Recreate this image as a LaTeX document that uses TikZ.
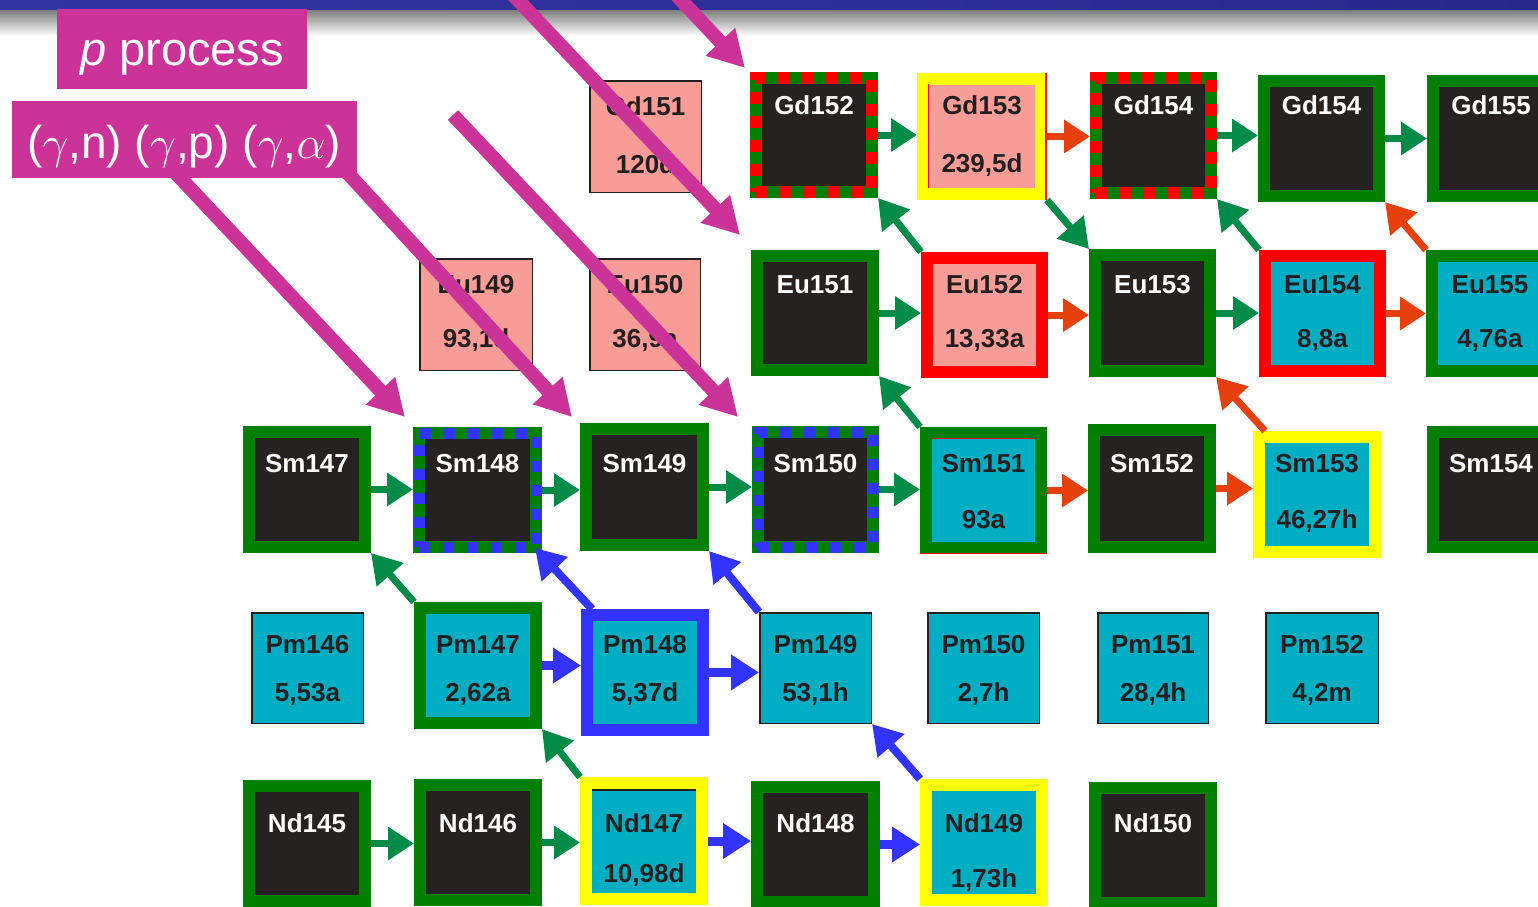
\documentclass[tikz,border=0pt]{standalone}
\usepackage{fontspec}
\setmainfont{Liberation Sans}
\usetikzlibrary{arrows.meta}
\definecolor{dk}{HTML}{252220}
\definecolor{gb}{HTML}{007F00}
\definecolor{ga}{HTML}{008C48}
\definecolor{oa}{HTML}{E8400C}
\definecolor{bl}{HTML}{3333FF}
\definecolor{cy}{HTML}{00AEC4}
\definecolor{pk}{HTML}{F89C98}
\definecolor{mg}{HTML}{CC3399}
\definecolor{yl}{HTML}{FFFF00}
\definecolor{rd}{HTML}{FF0000}
\definecolor{tx}{HTML}{231F20}
\definecolor{barL}{HTML}{3434A4}
\definecolor{barR}{HTML}{28288C}
\newcommand{\bigsym}[1]{{\fontsize{24.88}{24.88}\selectfont\scalebox{1.85}{$#1$}}}
\tikzset{
 thk/.style={rectangle, inner sep=0pt, line width=12pt, minimum width=116pt, minimum height=115pt},
 gblk/.style={thk, draw=gb, fill=dk},
 gcy/.style={thk, draw=gb, fill=cy},
 yel/.style={thk, draw=yl, fill=cy},
 yelpk/.style={thk, draw=yl, fill=pk},
 redpk/.style={thk, draw=rd, fill=pk},
 redcy/.style={thk, draw=rd, fill=cy},
 blucy/.style={thk, draw=bl, fill=cy},
 dashr/.style={gblk, postaction={draw=rd, line width=12pt, dash pattern=on 12pt off 12pt}},
 dashb/.style={gblk, postaction={draw=bl, line width=11pt, dash pattern=on 11pt off 13pt}},
 thn/.style={rectangle, inner sep=0pt, draw=tx, line width=1.5pt, minimum width=111.5pt, minimum height=110.5pt},
 thncy/.style={thn, fill=cy},
 thnpk/.style={thn, fill=pk},
 lab/.style={anchor=base, yshift=-9.3pt, inner sep=0pt, font=\fontsize{26}{26}\selectfont\bfseries},
 wl/.style={lab, text=white},
 dl/.style={lab, text=tx},
 harr/.style={line width=7pt, -{Triangle[length=26pt, width=32pt]}},
 barr/.style={line width=9pt, -{Triangle[length=28pt, width=34pt]}},
 darr/.style={line width=7pt, -{Triangle[length=29pt, width=34pt]}},
 marr/.style={draw=mg, line width=14pt, -{Triangle[length=36pt, width=38pt]}},
 ttl/.style={fill=mg, inner sep=0pt},
 trim/.style={line width=1.6pt}
}
\begin{document}
\begin{tikzpicture}[x=1pt,y=-1pt]
\useasboundingbox (0,0) rectangle (1538,906);
\fill[white] (0,0) rectangle (1538,906);
% top bar
\shade[top color=black!55, bottom color=white] (0,8) rectangle (1538,36);
\shade[left color=barL, right color=barR] (0,0) rectangle (1538,9);

% ---- boxes ----
% Gd row
\node[thnpk, minimum width=111.5pt, minimum height=111.5pt] (Gd151) at (645.5,136.5) {};
\node[dashr, minimum height=114pt] (Gd152) at (814,135) {};
\node[yelpk, minimum width=118pt] (Gd153) at (982,136.5) {};
\node[dashr, minimum width=115pt] (Gd154) at (1153.5,135.5) {};
\node[gblk, minimum width=115pt] (Gd154b) at (1321.5,138.5) {};
\node[gblk] (Gd155) at (1491,138.5) {};
% Eu row
\node[thnpk, minimum width=112.5pt, minimum height=111.5pt] (Eu149) at (476,314.5) {};
\node[thnpk, minimum width=110.5pt, minimum height=111.5pt] (Eu150) at (645,314.5) {};
\node[gblk, minimum height=114pt] (Eu151) at (815,313) {};
\node[redpk, minimum width=115pt, minimum height=114pt] (Eu152) at (984.5,315) {};
\node[gblk, minimum width=115pt, minimum height=116pt] (Eu153) at (1152.5,313) {};
\node[redcy, minimum width=115pt] (Eu154) at (1322.5,313.5) {};
\node[gcy] (Eu155) at (1490,313.5) {};
% Sm row
\node[gblk] (Sm147) at (307,489.5) {};
\node[dashb, minimum width=117pt, minimum height=114pt] (Sm148) at (477.5,490) {};
\node[gblk, minimum width=117pt, minimum height=116pt] (Sm149) at (644.5,487) {};
\node[dashb, minimum width=115pt] (Sm150) at (815.5,489.5) {};
\node[gcy, minimum width=115pt] (Sm151) at (983.5,490.5) {};
\node[gblk, minimum height=117pt] (Sm152) at (1152,488.5) {};
\node[yel] (Sm153) at (1317,494.5) {};
\node[gblk] (Sm154) at (1491,489.5) {};
% Pm row
\node[thncy] (Pm146) at (307.5,668) {};
\node[gcy] (Pm147) at (478,665.5) {};
\node[blucy] (Pm148) at (645,672.5) {};
\node[thncy] (Pm149) at (815.5,668) {};
\node[thncy] (Pm150) at (983.5,668) {};
\node[thncy, minimum width=110.5pt] (Pm151) at (1153,668) {};
\node[thncy, minimum width=112.5pt] (Pm152) at (1322,668) {};
% Nd row
\node[gblk] (Nd145) at (307,843.5) {};
\node[gblk] (Nd146) at (478,842.5) {};
\node[yel, minimum height=116pt] (Nd147) at (644,841) {};
\node[gblk, minimum width=117pt] (Nd148) at (815.5,844.5) {};
\node[yel] (Nd149) at (984,842.5) {};
\node[gblk] (Nd150) at (1153,845.5) {};

% small edge trims seen in the picture
\draw[trim, rd] (928.5,84) -- (928.5,188);
\draw[trim, rd] (1046,73) -- (1046,200);
\draw[trim, rd] (931,438.5) -- (1035,438.5);
\draw[trim, rd] (920,553.5) -- (1047,553.5);
\draw[trim, tx] (592,790) -- (696,790);

% ---- labels ----
\node[dl] at (645.5,106) {Gd151};  \node[dl] at (645.5,164) {120d};
\node[wl] at (814,105) {Gd152};
\node[dl] at (982,105) {Gd153};    \node[dl] at (982,163) {239,5d};
\node[wl] at (1153.5,105) {Gd154};
\node[wl] at (1321.5,105) {Gd154};
\node[wl] at (1491,105) {Gd155};
\node[dl] at (476,284) {Eu149};    \node[dl] at (476,338) {93,1d};
\node[dl] at (645,284) {Eu150};    \node[dl] at (645,338) {36,9a};
\node[wl] at (815,284) {Eu151};
\node[dl] at (984.5,284) {Eu152};  \node[dl] at (984.5,338) {13,33a};
\node[wl] at (1152.5,284) {Eu153};
\node[dl] at (1322.5,284) {Eu154}; \node[dl] at (1322.5,338) {8,8a};
\node[dl] at (1490,284) {Eu155};   \node[dl] at (1490,338) {4,76a};
\node[wl] at (307,463) {Sm147};
\node[wl] at (477.5,463) {Sm148};
\node[wl] at (644.5,463) {Sm149};
\node[wl] at (815.5,463) {Sm150};
\node[dl] at (983.5,463) {Sm151};  \node[dl] at (983.5,519) {93a};
\node[wl] at (1152,463) {Sm152};
\node[dl] at (1317,463) {Sm153};   \node[dl] at (1317,519) {46,27h};
\node[wl] at (1491,463) {Sm154};
\node[dl] at (307.5,644) {Pm146};  \node[dl] at (307.5,692) {5,53a};
\node[dl] at (478,644) {Pm147};    \node[dl] at (478,692) {2,62a};
\node[dl] at (645,644) {Pm148};    \node[dl] at (645,692) {5,37d};
\node[dl] at (815.5,644) {Pm149};  \node[dl] at (815.5,692) {53,1h};
\node[dl] at (983.5,644) {Pm150};  \node[dl] at (983.5,692) {2,7h};
\node[dl] at (1153,644) {Pm151};   \node[dl] at (1153,692) {28,4h};
\node[dl] at (1322,644) {Pm152};   \node[dl] at (1322,692) {4,2m};
\node[wl] at (307,823) {Nd145};
\node[wl] at (478,823) {Nd146};
\node[dl] at (644,823) {Nd147};    \node[dl] at (644,873) {10,98d};
\node[wl] at (815.5,823) {Nd148};
\node[dl] at (984,823) {Nd149};    \node[dl] at (984,878) {1,73h};
\node[wl] at (1153,823) {Nd150};

% ---- horizontal arrows ----
\draw[harr, ga] (Gd152.east) -- (Gd152.east -| Gd153.west);
\draw[harr, oa] (Gd153.east) -- (Gd153.east -| Gd154.west);
\draw[harr, ga] (Gd154.east) -- (Gd154.east -| Gd154b.west);
\draw[harr, ga] (Gd154b.east) -- (Gd154b.east -| Gd155.west);
\draw[harr, ga] (Eu151.east) -- (Eu151.east -| Eu152.west);
\draw[harr, oa] (Eu152.east) -- (Eu152.east -| Eu153.west);
\draw[harr, ga] (Eu153.east) -- (Eu153.east -| Eu154.west);
\draw[harr, oa] (Eu154.east) -- (Eu154.east -| Eu155.west);
\draw[harr, ga] (Sm147.east) -- (Sm147.east -| Sm148.west);
\draw[harr, ga] (Sm148.east) -- (Sm148.east -| Sm149.west);
\draw[harr, ga] (Sm149.east) -- (Sm149.east -| Sm150.west);
\draw[harr, ga] (Sm150.east) -- (Sm150.east -| Sm151.west);
\draw[harr, oa] (Sm151.east) -- (Sm151.east -| Sm152.west);
\draw[harr, oa] (Sm152.east) -- (Sm152.east -| Sm153.west);
\draw[barr, bl] (Pm147.east) -- (Pm147.east -| Pm148.west);
\draw[barr, bl] (Pm148.east) -- (Pm148.east -| Pm149.west);
\draw[harr, ga] (Nd145.east) -- (Nd145.east -| Nd146.west);
\draw[harr, ga] (Nd146.east) -- (Nd146.east -| Nd147.west);
\draw[barr, bl] (Nd147.east) -- (Nd147.east -| Nd148.west);
\draw[barr, bl] (Nd148.east) -- (Nd148.east -| Nd149.west);

% ---- diagonal arrows ----
\draw[darr, ga] (Eu152.north west) -- (Gd152.south east);
\draw[darr, ga] (Gd153.south east) -- (Eu153.north west);
\draw[darr, ga] (Eu154.north west) -- (Gd154.south east);
\draw[darr, oa] (Eu155.north west) -- (Gd154b.south east);
\draw[darr, ga] (Sm151.north west) -- (Eu151.south east);
\draw[darr, oa] ([xshift=12pt]Sm153.north west) -- (Eu153.south east);
\draw[darr, ga] (Pm147.north west) -- (Sm147.south east);
\draw[darr, bl, line width=8pt] ([xshift=11pt]Pm148.north west) -- ([shift={(-7pt,5pt)}]Sm148.south east);
\draw[darr, bl, line width=8pt] (Pm149.north west) -- (Sm149.south east);
\draw[darr, ga] (Nd147.north west) -- (Pm147.south east);
\draw[darr, bl, line width=8pt] (Nd149.north west) -- (Pm149.south east);

% ---- magenta p-process arrows ----
\coordinate (m1) at (171,168);
\coordinate (m2) at (343,168);
\coordinate (m3) at (453,115);
\coordinate (m4) at (508.5,-10);
\coordinate (m5) at (671.6,-10);
\draw[marr] (m1) -- ([shift={(-8pt,10pt)}]Sm148.north west);
\draw[marr] (m2) -- ([shift={(-8pt,6pt)}]Sm149.north west);
\draw[marr] (m3) -- ([shift={(-14pt,9pt)}]Sm150.north west);
\draw[marr] (m4) -- ([shift={(-11pt,15pt)}]Eu151.north west);
\draw[marr] (m5) -- ([shift={(-5pt,4pt)}]Gd152.north west);

% ---- title boxes ----
\node[ttl, minimum width=250pt, minimum height=80pt] (pp) at (182,49) {};
\node[anchor=base, inner sep=0pt, text=white, font=\fontsize{47}{47}\selectfont] at (182,65) {\textit{p} process};
\node[ttl, minimum width=345pt, minimum height=77pt] (rx) at (184.5,139.5) {};
\node[anchor=base, inner sep=0pt, text=white, font=\fontsize{46}{46}\selectfont] at (184,158) {(\bigsym{\gamma},n) (\bigsym{\gamma},p) (\bigsym{\gamma},\bigsym{\alpha})};
\end{tikzpicture}
\end{document}
